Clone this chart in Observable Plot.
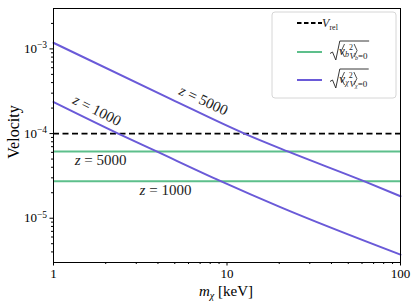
<!DOCTYPE html>
<html>
<head>
<meta charset="utf-8">
<script src="https://cdn.jsdelivr.net/npm/d3@7"></script>
<script src="https://cdn.jsdelivr.net/npm/@observablehq/plot@0.6"></script>
<style>
  html, body { margin: 0; padding: 0; background: white; }
  svg text { font-family: "Liberation Serif", "DejaVu Serif", serif; }
</style>
</head>
<body>
<div id="chart"></div>
<script>
// ---- data ----
const vRel = 1e-4;                                  // dashed black
const baryonZ = ["5000", "1000"];
const baryonV = [6.15e-5, 2.74e-5];                 // green horizontal lines
const chiMass5000 = [1, 4.72, 12.6, 22.4, 61.5, 100];   // keV
const chiV5000 = [1.18e-3, 2.57e-4, 1e-4, 6.15e-5, 2.74e-5, 1.82e-5];
const chiMass1000 = [1, 2.36, 3.93, 9.2, 20.3, 100];    // keV
const chiV1000 = [2.36e-4, 1e-4, 6.15e-5, 2.74e-5, 1.35e-5, 3.71e-6];
const xMajor = [1, 10, 100];
const xMinor = [2, 3, 4, 5, 6, 7, 8, 9, 20, 30, 40, 50, 60, 70, 80, 90];
const yMajor = [1e-5, 1e-4, 1e-3];
const yMinor = [4e-6, 5e-6, 6e-6, 7e-6, 8e-6, 9e-6,
  2e-5, 3e-5, 4e-5, 5e-5, 6e-5, 7e-5, 8e-5, 9e-5,
  2e-4, 3e-4, 4e-4, 5e-4, 6e-4, 7e-4, 8e-4, 9e-4, 2e-3];
const labelText = ["z = 5000", "z = 1000", "z = 5000", "z = 1000"];
const labelX = [7.32, 1.78, 1.87, 4.42];
const labelY = [2.46e-4, 1.88e-4, 4.81e-5, 2.13e-5];
const labelRotate = [25, 27, 0, 0];

const purple = "#6a5ad8";
const green = "#5dbf8b";

const chiTable = [
  ...chiMass5000.map((m, i) => ({m, v: chiV5000[i], z: "5000"})),
  ...chiMass1000.map((m, i) => ({m, v: chiV1000[i], z: "1000"}))
];
const baryonTable = baryonV.map((v, i) => ({v, z: baryonZ[i]}));
const labels = labelText.map((t, i) => ({t, x: labelX[i], y: labelY[i], r: labelRotate[i]}));

const chart = Plot.plot({
  width: 416, height: 305,
  marginLeft: 53, marginRight: 16, marginTop: 8, marginBottom: 43,
  style: {fontFamily: "Liberation Serif", fontSize: "13px", color: "black", background: "white"},
  x: {type: "log", domain: [1, 100]},
  y: {type: "log", domain: [3e-6, 3e-3]},
  marks: [
    Plot.ruleY(baryonTable, {y: "v", stroke: green, strokeWidth: 2}),
    Plot.ruleY([vRel], {stroke: "black", strokeWidth: 1.8, strokeDasharray: "6,3.5"}),
    Plot.line(chiTable, {x: "m", y: "v", z: "z", stroke: purple, strokeWidth: 2, curve: "monotone-x"}),
    Plot.text(labels, {x: "x", y: "y", text: "t", rotate: "r", fontSize: 15, fill: "#222"}),
    Plot.axisX(xMajor, {tickSize: 3.5, tickPadding: 3, fontSize: 13, tickFormat: d => String(d), label: null}),
    Plot.axisX(xMinor, {tickSize: 2, tickFormat: () => "", label: null}),
    Plot.axisY(yMajor, {tickSize: 3.5, tickPadding: 3, fontSize: 13, tickFormat: d => "10^" + Math.round(Math.log10(d)), label: null}),
    Plot.axisY(yMinor, {tickSize: 2, tickFormat: () => "", label: null}),
    Plot.frame({stroke: "black", strokeWidth: 1})
  ]
});

document.getElementById("chart").appendChild(chart);
const svg = d3.select(chart);
const NS = "http://www.w3.org/2000/svg";

// rich text fixes: powers of ten and italic z
chart.querySelectorAll("text").forEach(t => {
  const s = t.textContent;
  const m = s.match(/^10\^(-?\d+)$/);
  if (m) {
    t.textContent = "";
    const a = document.createElementNS(NS, "tspan"); a.textContent = "10"; t.appendChild(a);
    const b = document.createElementNS(NS, "tspan");
    b.textContent = "\u2212" + Math.abs(+m[1]);
    b.setAttribute("dy", "-0.5em"); b.setAttribute("font-size", "9.5");
    t.appendChild(b);
  } else if (/^z = /.test(s)) {
    t.textContent = "";
    const a = document.createElementNS(NS, "tspan"); a.textContent = "z"; a.setAttribute("font-style", "italic"); t.appendChild(a);
    const b = document.createElementNS(NS, "tspan"); b.textContent = s.slice(1); t.appendChild(b);
  }
});

// axis titles
svg.append("text").attr("transform", "translate(13,132) rotate(-90)")
  .attr("text-anchor", "middle").attr("dy", "0.35em").attr("font-size", 16).text("Velocity");
const xl = svg.append("text").attr("x", 226).attr("y", 296).attr("text-anchor", "middle").attr("font-size", 15);
xl.append("tspan").attr("font-style", "italic").text("m");
xl.append("tspan").attr("font-style", "italic").attr("font-size", 10).attr("dy", 3).text("\u03c7");
xl.append("tspan").attr("dy", -3).text(" [keV]");

// legend
const lg = svg.append("g");
lg.append("rect").attr("x", 272).attr("y", 12).attr("width", 124).attr("height", 86).attr("rx", 3)
  .attr("fill", "white").attr("fill-opacity", 0.85).attr("stroke", "#d6d6d6").attr("stroke-width", 1);
lg.append("line").attr("x1", 297).attr("x2", 322).attr("y1", 23).attr("y2", 23)
  .attr("stroke", "black").attr("stroke-width", 1.8).attr("stroke-dasharray", "4.5,2.5");
lg.append("line").attr("x1", 297).attr("x2", 322).attr("y1", 52).attr("y2", 52)
  .attr("stroke", green).attr("stroke-width", 2);
lg.append("line").attr("x1", 297).attr("x2", 322).attr("y1", 80).attr("y2", 80)
  .attr("stroke", purple).attr("stroke-width", 2);

const t1 = lg.append("text").attr("x", 330).attr("y", 27).attr("font-size", 12).attr("fill", "#222");
t1.append("tspan").attr("font-style", "italic").text("V");
t1.append("tspan").attr("font-size", 8).attr("dy", 2.5).text("rel");

function sqrtEntry(y, sym) {
  const ink = "#222";
  // left angle bracket
  lg.append("path").attr("d", `M344.5,${y - 8} L341.5,${y - 1.5} L344.5,${y + 5}`)
    .attr("fill", "none").attr("stroke", ink).attr("stroke-width", 0.8);
  const a = lg.append("text").attr("x", 346).attr("y", y + 2.5).attr("font-size", 13).attr("fill", ink);
  a.append("tspan").attr("font-style", "italic").text("v");
  a.append("tspan").attr("font-size", 8).attr("font-style", "italic").attr("dy", 2.5).text(sym);
  a.append("tspan").attr("font-size", 8).attr("dy", -7.5).text("2");
  const ba = a.node().getBBox();
  const xr = ba.x + ba.width + 1.2;
  // right angle bracket
  lg.append("path").attr("d", `M${xr},${y - 8} L${xr + 3},${y - 1.5} L${xr},${y + 5}`)
    .attr("fill", "none").attr("stroke", ink).attr("stroke-width", 0.8);
  const b = lg.append("text").attr("x", xr + 4.5).attr("y", y + 7).attr("font-size", 9).attr("fill", ink);
  b.append("tspan").attr("font-style", "italic").text("V");
  b.append("tspan").attr("font-size", 6).attr("font-style", "italic").attr("dy", 1.2).text(sym);
  b.append("tspan").attr("dy", -1.2).text("=0");
  const bb = b.node().getBBox();
  const top = y - 11;
  const end = bb.x + bb.width + 1;
  lg.append("path")
    .attr("d", `M330,${y + 1.5} L332.5,${y} L335.8,${y + 8} L339.8,${top} L${end},${top}`)
    .attr("fill", "none").attr("stroke", ink).attr("stroke-width", 0.9);
}
sqrtEntry(52, "b");
sqrtEntry(80, "\u03c7");
</script>
</body>
</html>
